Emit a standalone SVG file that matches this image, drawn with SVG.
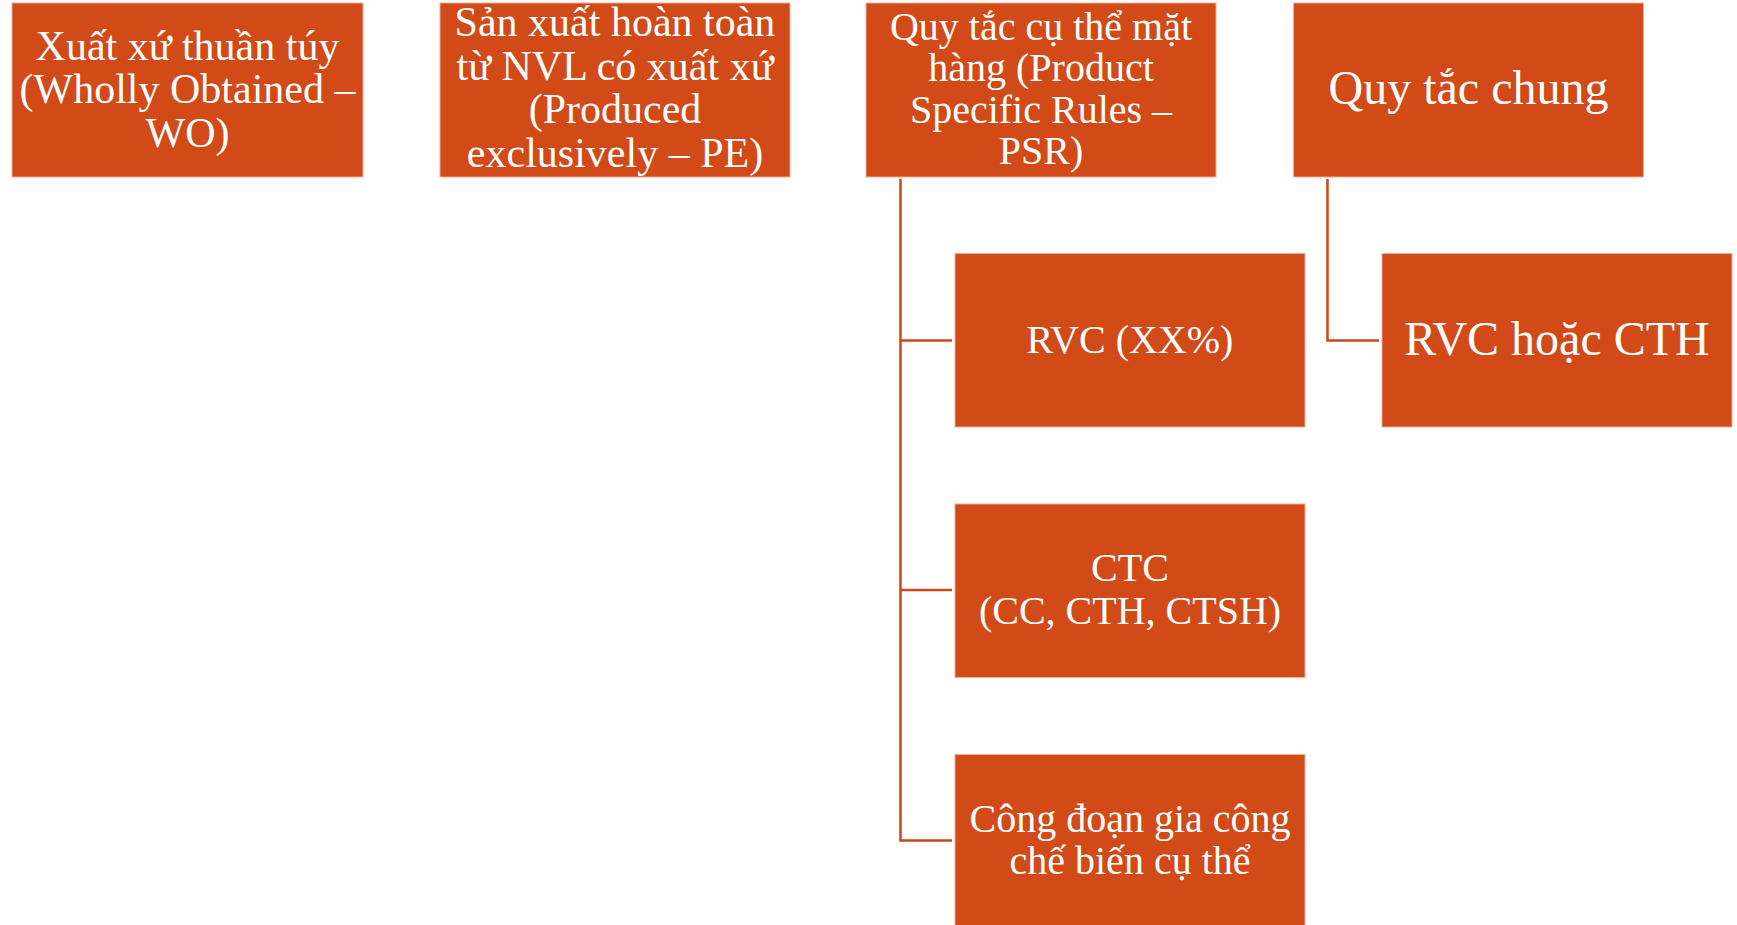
<svg xmlns="http://www.w3.org/2000/svg" width="1737" height="925" viewBox="0 0 1737 925">
<style>
.box{fill:#D14A18;stroke:#EDAE93;stroke-width:1}
.t{font-family:"Liberation Serif","Times New Roman",serif;fill:#FFFFFF;text-anchor:middle}
.s42{font-size:42px}
.s40{font-size:40px}
.s48{font-size:48px}
.c{fill:none;stroke:#C9481C;stroke-width:2.5}
</style>
<rect width="1737" height="925" fill="#FFFFFF"/>
<g id="connectors">
<path class="c" d="M900.5 179 V840.5 H952"/>
<path class="c" d="M900.5 340.5 H952"/>
<path class="c" d="M900.5 590 H952"/>
<path class="c" d="M1327.5 179 V340.5 H1379"/>
</g>
<g id="n-wo">
<rect class="box" x="12" y="3" width="351" height="174"/>
<text class="t s42" x="187.5" y="60">Xuất xứ thuần túy</text>
<text class="t s42" x="187.5" y="103">(Wholly Obtained –</text>
<text class="t s42" x="187.5" y="146.5">WO)</text>
</g>
<g id="n-pe">
<rect class="box" x="440" y="3" width="350" height="174"/>
<text class="t s42" x="615" y="36">Sản xuất hoàn toàn</text>
<text class="t s42" x="615" y="80">từ NVL có xuất xứ</text>
<text class="t s42" x="615" y="123">(Produced</text>
<text class="t s42" x="615" y="166.5">exclusively – PE)</text>
</g>
<g id="n-psr">
<rect class="box" x="866" y="3" width="350" height="174"/>
<text class="t s40" x="1041" y="40">Quy tắc cụ thể mặt</text>
<text class="t s40" x="1041" y="81">hàng (Product</text>
<text class="t s40" x="1041" y="122.5">Specific Rules –</text>
<text class="t s40" x="1041" y="164">PSR)</text>
</g>
<g id="n-general">
<rect class="box" x="1293.5" y="3" width="350" height="174"/>
<text class="t s48" x="1468.5" y="104">Quy tắc chung</text>
</g>
<g id="n-rvc">
<rect class="box" x="955" y="253.5" width="350" height="173.5"/>
<text class="t s40" x="1130" y="352.5">RVC (XX%)</text>
</g>
<g id="n-ctc">
<rect class="box" x="955" y="504" width="350" height="173.5"/>
<text class="t s40" x="1130" y="580.5">CTC</text>
<text class="t s40" x="1130" y="624">(CC, CTH, CTSH)</text>
</g>
<g id="n-process">
<rect class="box" x="955" y="754.5" width="350" height="174"/>
<text class="t s40" x="1130" y="831.5">Công đoạn gia công</text>
<text class="t s40" x="1130" y="874">chế biến cụ thể</text>
</g>
<g id="n-rvc-cth">
<rect class="box" x="1382" y="253.5" width="350" height="173.5"/>
<text class="t s48" x="1557" y="355">RVC hoặc CTH</text>
</g>
</svg>
